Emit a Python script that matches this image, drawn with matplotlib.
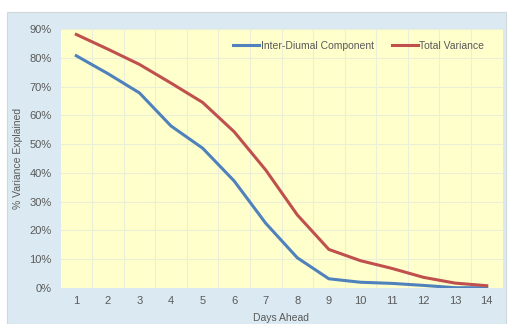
import numpy as np
import matplotlib
matplotlib.use("Agg")
import matplotlib.pyplot as plt
from matplotlib.patches import Rectangle

days = list(range(1, 15))
inter_diurnal = [80.7, 74.5, 67.8, 56.3, 48.6, 37.2, 22.5, 10.5, 3.2, 2.0, 1.6, 0.9, 0.1, 0.1]
total_variance = [88.1, 83.0, 77.7, 71.2, 64.5, 54.3, 41.0, 25.4, 13.4, 9.5, 6.8, 3.7, 1.7, 0.8]

plt.rcParams.update({"font.family": ["Liberation Sans", "DejaVu Sans"], "font.size": 7.5})
text_col = "#595959"

W, H = 508, 324
fig = plt.figure(figsize=(W / 100, H / 100), dpi=100)
fig.patch.set_facecolor("white")
# light blue chart area
fig.patches.append(Rectangle((7 / W, 0), 499 / W, 1 - 12 / H, transform=fig.transFigure,
                             facecolor="#dbeaf2", edgecolor="#d0d8dc", linewidth=0.8, zorder=-5))

ax = fig.add_axes([60.5 / W, 1 - 288 / H, (502.5 - 60.5) / W, (288 - 29) / H])
ax.set_facecolor("#ffffcc")
ax.plot(days, inter_diurnal, color="#4f81bd", lw=2.2, label="Inter-Diumal Component")
ax.plot(days, total_variance, color="#c0504d", lw=2.2, label="Total Variance")

ax.set_xlim(0.5, 14.5)
ax.set_ylim(0, 90)
ax.set_xticks(days)
ax.set_yticks(np.arange(0, 91, 10))
ax.set_yticklabels([f"{v}%" for v in range(0, 91, 10)])
ax.set_xticks(np.arange(1.5, 14.5, 1), minor=True)
ax.grid(which="minor", axis="x", color="#ecefd8", lw=0.8)
ax.grid(which="major", axis="y", color="#ecefd8", lw=0.8)
ax.set_axisbelow(True)
ax.tick_params(which="both", length=0, colors=text_col, labelsize=8)
ax.tick_params(axis="x", pad=6)
ax.tick_params(axis="y", pad=6.5)
for s in ax.spines.values():
    s.set_visible(False)

ax.set_xlabel("Days Ahead", color=text_col, fontsize=7.5)
ax.xaxis.set_label_coords((281 - 60.5) / (502.5 - 60.5), -(313 - 288) / (288 - 29))
ax.set_ylabel("% Variance Explained", color=text_col, fontsize=7.5)
ax.yaxis.set_label_coords(-(60.5 - 23) / (502.5 - 60.5), 0.5)

leg = ax.legend(ncol=2, loc="upper right", bbox_to_anchor=(0.98, 0.99), frameon=False,
                handlelength=2.5, handletextpad=0.15, columnspacing=1.7, fontsize=7.5)
for t in leg.get_texts():
    t.set_color(text_col)

fig.savefig("out.png", dpi=100)
